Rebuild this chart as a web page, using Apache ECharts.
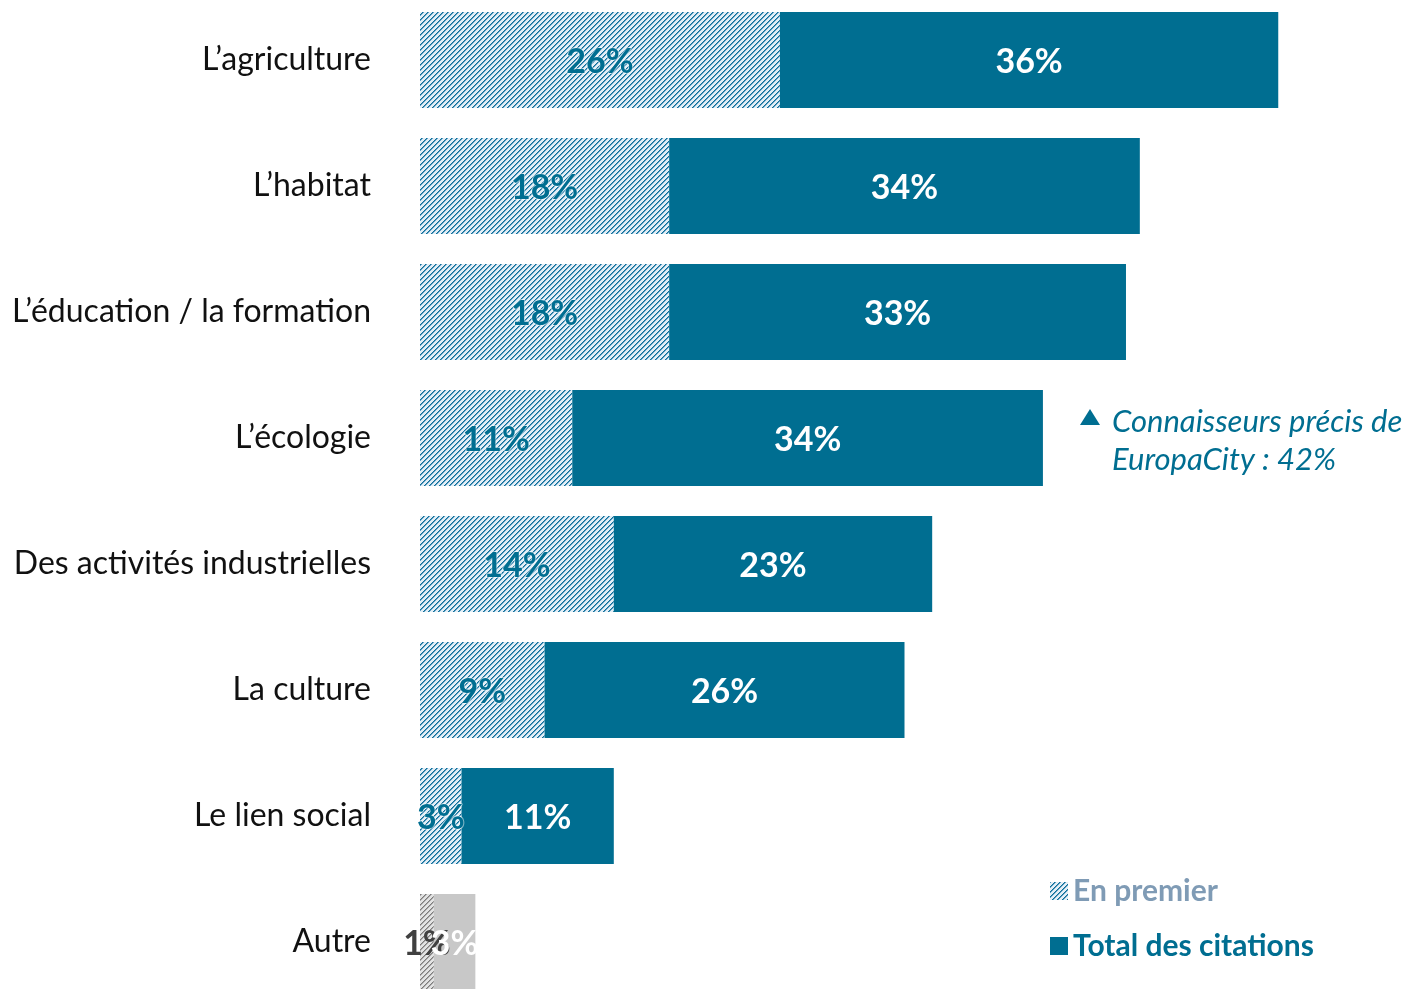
<!DOCTYPE html>
<html>
<head>
<meta charset="utf-8">
<style>
  html, body { margin: 0; padding: 0; background: #fff; }
  #main { width: 1406px; height: 989px; }
</style>
<script src="https://cdn.jsdelivr.net/npm/echarts@6/dist/echarts.min.js"></script>
</head>
<body>
<div id="main"></div>
<script>
// données du graphique
var categories = [
  "L’agriculture",
  "L’habitat",
  "L’éducation / la formation",
  "L’écologie",
  "Des activités industrielles",
  "La culture",
  "Le lien social",
  "Autre"
];
var enPremier = [26, 18, 18, 11, 14, 9, 3, 1];
var totalCitations = [36, 34, 33, 34, 23, 26, 11, 3];
var noteLines = ["Connaisseurs précis de", "EuropaCity : 42%"];

(function () {
  var BLUE = "#006e91";
  var GREY = "#c8c8c8";

  // motif hachuré (diagonales de 2 px, pas de 5 px)
  function hatch(bg, dark, mid) {
    var n = 5;
    var c = document.createElement("canvas");
    c.width = n;
    c.height = n;
    var ctx = c.getContext("2d");
    ctx.fillStyle = bg;
    ctx.fillRect(0, 0, n, n);
    for (var i = 0; i < n; i++) {
      ctx.fillStyle = dark;
      ctx.fillRect(n - 1 - i, i, 1, 1);
      ctx.fillStyle = mid;
      ctx.fillRect((2 * n - i) % n, i, 1, 1);
    }
    return { image: c, repeat: "repeat" };
  }
  var blueHatch = hatch("#e3eef6", "#0f6f98", "#5d9fc4");
  var greyHatch = hatch("#e2e2e2", "#7c7c7c", "#a8a8a8");

  var last = categories.length - 1;

  var premierData = enPremier.map(function (v, i) {
    if (i === last) {
      return {
        value: v,
        itemStyle: { color: greyHatch },
        label: { color: "#404040", textBorderWidth: 0 }
      };
    }
    return v;
  });
  var totalData = totalCitations.map(function (v, i) {
    if (i === last) {
      return { value: v, itemStyle: { color: GREY } };
    }
    return v;
  });

  var myChart = echarts.init(document.getElementById("main"));
  var option = {
    animation: false,
    textStyle: { fontFamily: "Lato" },
    grid: {
      left: 420,
      right: 17,
      top: -3,
      height: 1008,
      outerBoundsMode: "none"
    },
    xAxis: {
      type: "value",
      min: 0,
      max: 70,
      show: false
    },
    yAxis: {
      type: "category",
      data: categories,
      inverse: true,
      axisLine: { show: false },
      axisTick: { show: false },
      axisLabel: {
        margin: 49,
        fontSize: 32,
        color: "#111",
        fontFamily: "Lato"
      }
    },
    legend: {
      orient: "vertical",
      left: 1050,
      top: 876,
      padding: 0,
      itemWidth: 18,
      itemHeight: 18,
      itemGap: 25,
      itemTextGap: 10,
      icon: "rect",
      textStyle: { fontSize: 30, fontWeight: "bold", fontFamily: "Lato" },
      data: [
        { name: "En premier", textStyle: { color: "#7f9bb5" } },
        { name: "Total des citations", textStyle: { color: BLUE } }
      ]
    },
    series: [
      {
        name: "En premier",
        type: "bar",
        stack: "a",
        barWidth: 96,
        itemStyle: { color: blueHatch },
        label: {
          show: true,
          position: "inside",
          offset: [0, 2],
          formatter: "{c}%",
          fontSize: 34,
          fontWeight: "bold",
          color: BLUE,
          textBorderColor: "rgba(255,255,255,0.5)",
          textBorderWidth: 2
        },
        data: premierData
      },
      {
        name: "Total des citations",
        type: "bar",
        stack: "a",
        barWidth: 96,
        itemStyle: { color: BLUE },
        label: {
          show: true,
          position: "inside",
          offset: [0, 2],
          formatter: "{c}%",
          fontSize: 34,
          fontWeight: "bold",
          color: "#fff"
        },
        data: totalData
      }
    ],
    graphic: [
      {
        type: "polygon",
        shape: { points: [[1090, 409], [1100, 425], [1080, 425]] },
        style: { fill: BLUE }
      },
      {
        type: "text",
        left: 1112,
        top: 406,
        style: {
          text: noteLines[0],
          font: "italic 31px Lato",
          fill: BLUE
        }
      },
      {
        type: "text",
        left: 1112,
        top: 444,
        style: {
          text: noteLines[1],
          font: "italic 31px Lato",
          fill: BLUE
        }
      }
    ]
  };
  myChart.setOption(option);
  window.addEventListener("resize", function () {
    myChart.resize();
  });
})();
</script>
</body>
</html>
